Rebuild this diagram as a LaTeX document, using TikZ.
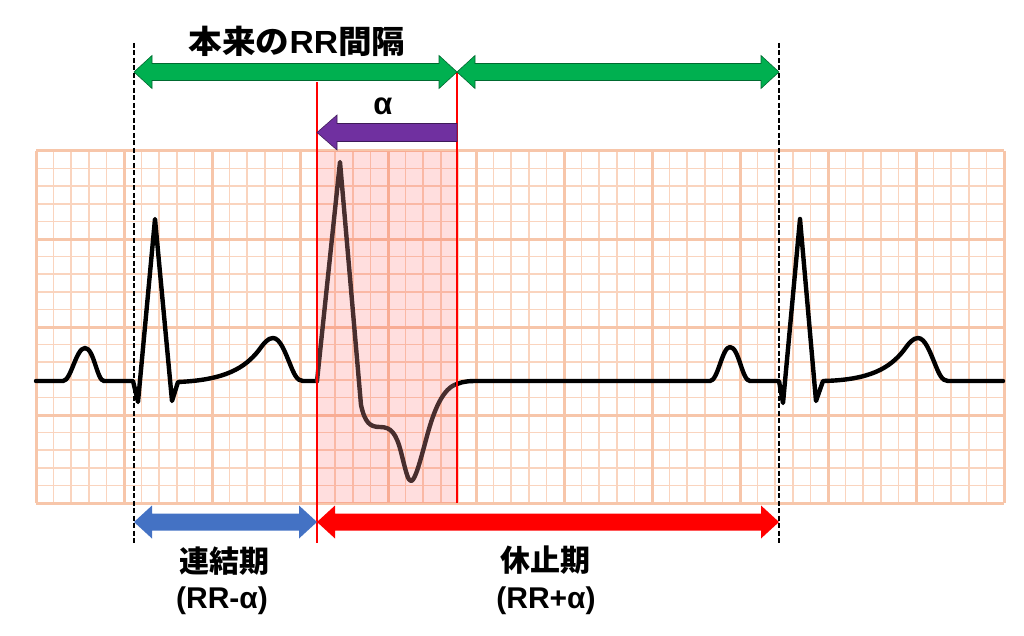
\documentclass[tikz,border=0pt]{standalone}
\usepackage{fontspec}
\usepackage{graphicx}
\setmainfont{Liberation Sans}
\newfontfamily\jp{Noto Sans CJK JP}
\definecolor{gridminor}{RGB}{250,212,190}
\definecolor{gridmajor}{RGB}{247,198,170}
\definecolor{arrgreen}{RGB}{0,176,80}
\definecolor{arrpurple}{RGB}{112,48,160}
\definecolor{arrblue}{RGB}{68,114,196}
\definecolor{pvcbrown}{RGB}{72,46,46}
\newcommand\myDblArrow[4]{%
  \filldraw[#4] (#1,#3) -- ({#1+18},{#3-16.5}) -- ({#1+18},{#3-8.5}) -- ({#2-18},{#3-8.5}) -- ({#2-18},{#3-16.5}) -- (#2,#3) -- ({#2-18},{#3+16.5}) -- ({#2-18},{#3+8.5}) -- ({#1+18},{#3+8.5}) -- ({#1+18},{#3+16.5}) -- cycle;}
\tikzset{
  minorline/.style={gridminor, line width=1.7pt},
  majorline/.style={gridmajor, line width=3pt},
  ecg/.style={line width=4.4pt, line join=round, line cap=round},
  guide/.style={black, line width=2pt, dash pattern=on 5pt off 2.5pt},
  redguide/.style={red, line width=2.2pt},
  lbl/.style={inner sep=0pt, font=\bfseries\fontsize{30}{34}\selectfont, text=black},
}
\begin{document}
\begin{tikzpicture}[x=1pt, y=-1pt]
\useasboundingbox (0,0) rectangle (1024,636);
% grid
\foreach \i in {0,...,55} {\draw[minorline] ({36+17.6*\i},151) -- ({36+17.6*\i},503);}
\foreach \j in {0,...,20} {\draw[minorline] (36,{151+17.6*\j}) -- (1004,{151+17.6*\j});}
\foreach \i in {0,...,11} {\draw[majorline] ({36+88*\i},151) -- ({36+88*\i},503);}
\foreach \j in {0,...,4} {\draw[majorline] (36,{151+88*\j}) -- (1004,{151+88*\j});}
% pink region
\fill[red, opacity=0.13] (317,151) rectangle (457,503);
% ECG
\draw[ecg, black] (36,381) -- (63,381)
  .. controls (71,381) and (76,348) .. (85,348)
  .. controls (94,348) and (97,381) .. (104,381)
  -- (133,381) -- (138,402) -- (155,219) -- (172,401) -- (178,382)
  .. controls (225,380) and (245,368) .. (259,350)
  .. controls (264,343) and (268,338) .. (273,338)
  .. controls (280,338) and (285,352) .. (290,364)
  .. controls (294,374) and (297,381) .. (303,381)
  -- (317,381);
\draw[ecg, pvcbrown] (317,381) -- (340,162) -- (361,405)
  .. controls (365,423) and (370,427) .. (380,427)
  .. controls (391,427) and (396,433) .. (401,452)
  .. controls (406,472) and (408,481) .. (411,481)
  .. controls (415,481) and (420,462) .. (427,436)
  .. controls (434,410) and (443,388) .. (457,384);
\draw[ecg, black] (457,384) .. controls (464,381) and (470,381) .. (480,381) -- (710,381)
  .. controls (718,381) and (722,347) .. (730,347)
  .. controls (739,347) and (742,381) .. (750,381)
  -- (779,381) -- (783,403) -- (800,219) -- (816,401) -- (823,381)
  .. controls (870,380) and (890,368) .. (904,350)
  .. controls (909,343) and (913,338) .. (918,338)
  .. controls (925,338) and (930,352) .. (935,364)
  .. controls (939,374) and (942,381) .. (948,381) -- (1003,381);
% guide lines
\coordinate (d1t) at (134,43); \coordinate (d1b) at (134,545);
\coordinate (d2t) at (779,43); \coordinate (d2b) at (779,545);
\coordinate (r1t) at (317,82); \coordinate (r1b) at (317,543);
\coordinate (r2t) at (457,72); \coordinate (r2b) at (457,503);
\draw[guide] (d1t) -- (d1b);
\draw[guide] (d2t) -- (d2b);
\draw[redguide] (r1t) -- (r1b);
\draw[redguide] (r2t) -- (r2b);
% block arrows
\myDblArrow{134}{457}{72}{fill=arrgreen, draw=arrgreen!60!black, line width=0.6pt}
\myDblArrow{457}{779}{72}{fill=arrgreen, draw=arrgreen!60!black, line width=0.6pt}
\filldraw[fill=arrpurple, draw=arrpurple!55!black, line width=0.6pt]
  (317,132.5) -- (337,115) -- (337,123.5) -- (457,123.5) -- (457,141.5) -- (337,141.5) -- (337,150) -- cycle;
\myDblArrow{134}{317}{522}{fill=arrblue, draw=none}
\myDblArrow{317}{779}{522}{fill=red, draw=none}
% labels
\node[lbl] (title) at (297,41) {\scalebox{1.05}[1]{\fontsize{32}{36}\selectfont\jp 本来の\rmfamily RR\jp 間隔}};
\node[lbl, font=\bfseries\fontsize{31}{34}\selectfont] (alpha) at (383,106) {α};
\node[lbl] (lab1) at (224,561) {\jp 連結期};
\node[lbl] (lab1b) at (222,601) {(RR-α)};
\node[lbl] (lab2) at (545,560) {\jp 休止期};
\node[lbl] (lab2b) at (546,601) {(RR+α)};
\end{tikzpicture}
\end{document}
